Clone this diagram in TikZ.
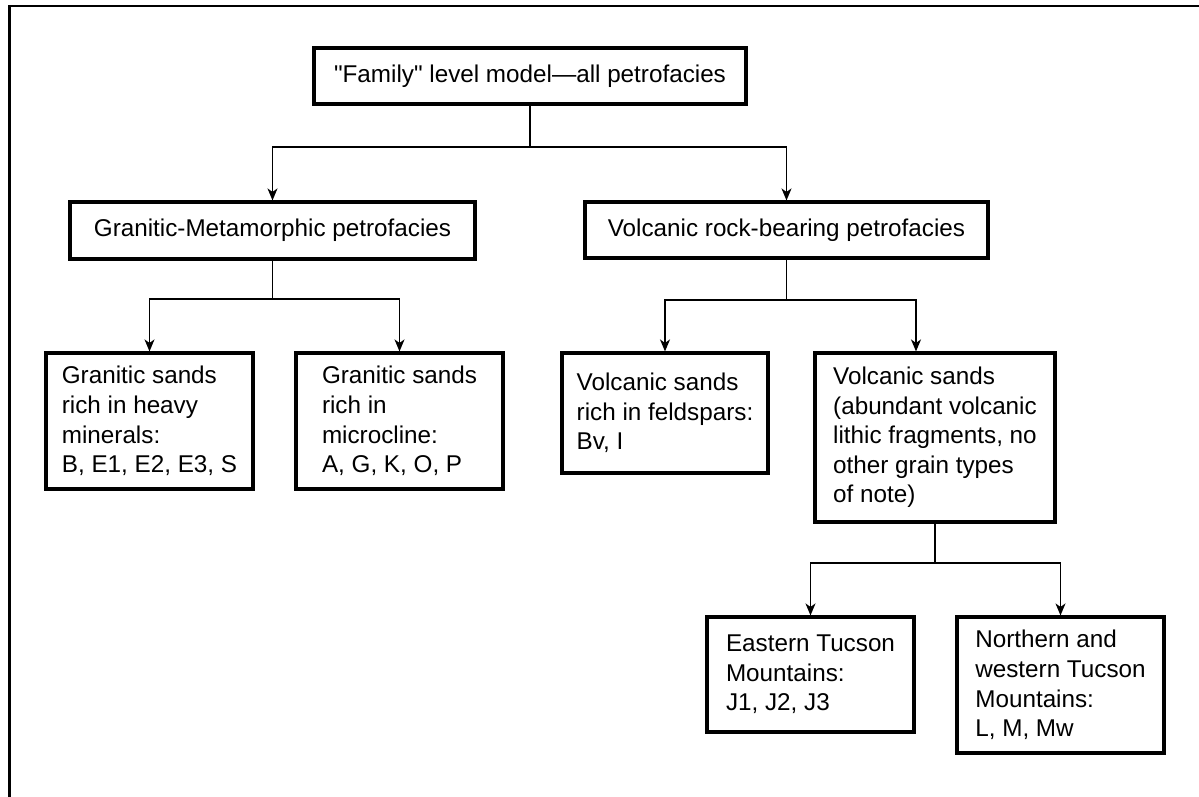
\documentclass[tikz,border=0pt]{standalone}
\usepackage{fontspec}
\setmainfont{Liberation Sans}
\usetikzlibrary{arrows.meta}
\tikzstyle{box} = [rectangle, draw=black, line width=1.8pt, align=left, inner sep=0pt, font=\fontsize{13.8}{16.8}\selectfont]
\tikzstyle{branch} = [line width=0.8pt]
\tikzstyle{arrow} = [line width=0.8pt, -{Stealth[length=2.4mm,width=2mm,inset=0.7mm]}]
\tikzstyle{frame} = [line width=1.6pt]

\begin{document}
\begin{tikzpicture}

\useasboundingbox (0,0) rectangle (23.98,-15.92);

% outer frame (top and left only)
\draw [frame] (0.19,-16.1) -- (0.19,-0.12) -- (24.2,-0.12);

% Top level
\node (root) [box, minimum width=8.64cm, minimum height=1.12cm] at (10.6,-1.52) {\textquotedbl Family\textquotedbl{} level model—all petrofacies};

% Second level
\node (granmet) [box, minimum width=8.10cm, minimum height=1.14cm] at (5.45,-4.61) {Granitic-Metamorphic petrofacies};
\node (volcrock) [box, minimum width=8.06cm, minimum height=1.12cm] at (15.73,-4.60) {Volcanic rock-bearing petrofacies};

% Granitic sands
\node (granheavy) [box, minimum width=4.14cm, minimum height=2.72cm] at (2.99,-8.42) {Granitic sands\\rich in heavy\\minerals:\\B, E1, E2, E3, S};
\node (granmicro) [box, minimum width=4.14cm, minimum height=2.72cm] at (7.99,-8.42) {Granitic sands\\rich in\\microcline:\\A, G, K, O, P};

% Volcanic sands
\node (volcfeld) [box, minimum width=4.12cm, minimum height=2.40cm] at (13.30,-8.26) {Volcanic sands\\rich in feldspars:\\Bv, I};
\node (volclith) [box, minimum width=4.80cm, minimum height=3.38cm] at (18.70,-8.75) {Volcanic sands\\(abundant volcanic\\lithic fragments, no\\other grain types\\of note)};

% Tucson Mountains
\node (easttuc) [box, minimum width=4.14cm, minimum height=2.30cm] at (16.21,-13.49) {Eastern Tucson\\Mountains:\\J1, J2, J3};
\node (northtuc) [box, minimum width=4.14cm, minimum height=2.72cm] at (21.21,-13.70) {Northern and\\western Tucson\\Mountains:\\L, M, Mw};

% branch points
\coordinate (rootsplit) at (10.6,-2.94);
\coordinate (gmsplit) at (5.45,-5.98);
\coordinate (vrsplit) at (15.73,-6.0);
\coordinate (vlsplit) at (18.70,-11.26);

% arrows
\draw [branch] (root) -- (rootsplit);
\draw [arrow] (rootsplit) -| (granmet.north);
\draw [arrow] (rootsplit) -| (volcrock.north);

\draw [branch] (granmet) -- (gmsplit);
\draw [arrow] (gmsplit) -| (granheavy.north);
\draw [arrow] (gmsplit) -| (granmicro.north);

\draw [branch] (volcrock) -- (vrsplit);
\draw [arrow] (vrsplit) -| (volcfeld.north);
\draw [arrow] (vrsplit) -| ([xshift=-0.38cm]volclith.north);

\draw [branch] (volclith) -- (vlsplit);
\draw [arrow] (vlsplit) -| (easttuc.north);
\draw [arrow] (vlsplit) -| (northtuc.north);

\end{tikzpicture}
\end{document}
